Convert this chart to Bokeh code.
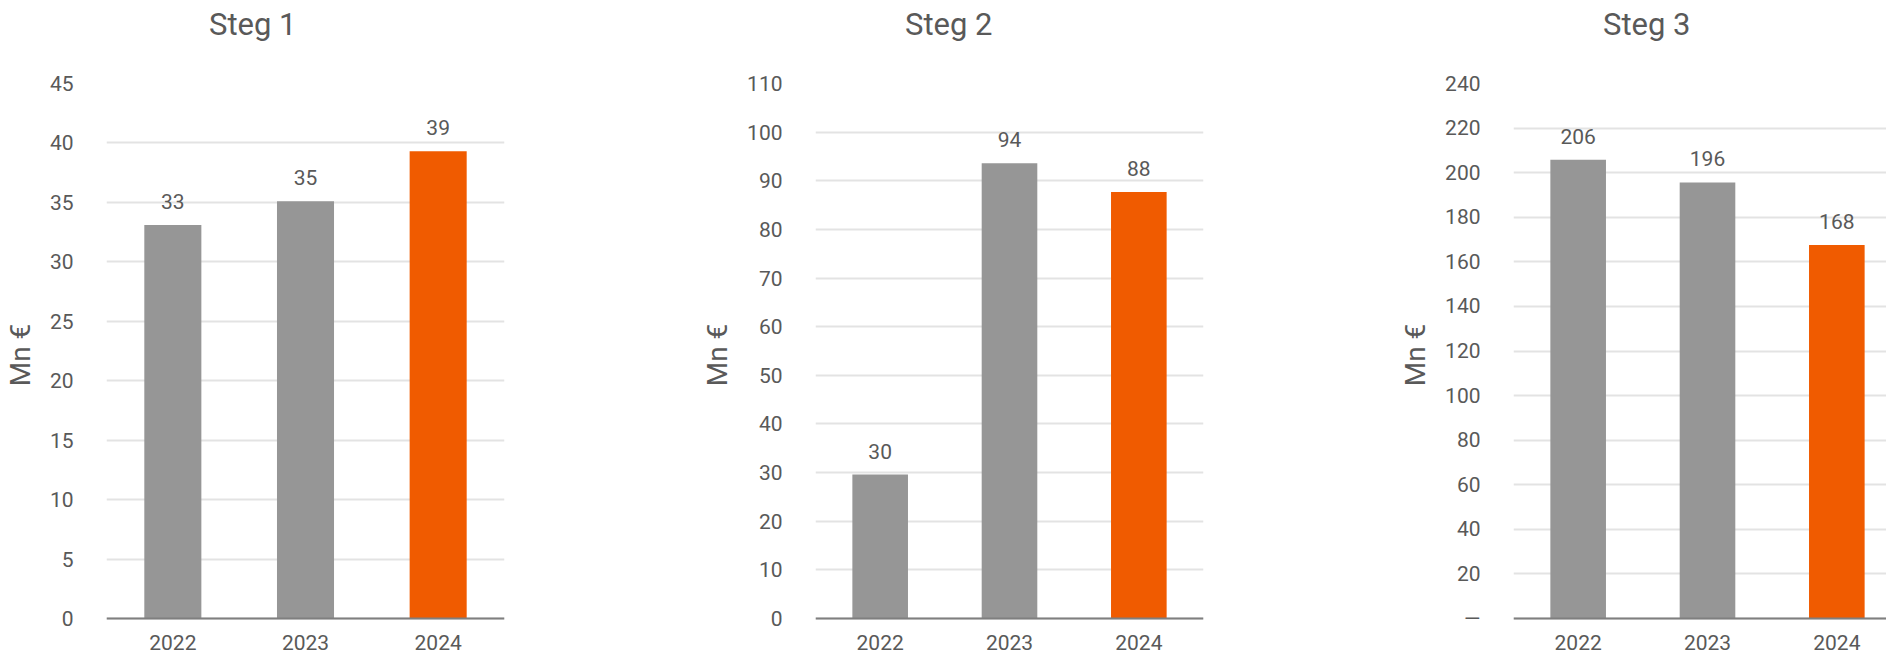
from bokeh.plotting import figure
from bokeh.models import Range1d, FixedTicker, ColumnDataSource, LabelSet, Title, Span
from bokeh.layouts import row
from bokeh.core.properties import value
from bokeh.embed import file_html
from bokeh.resources import INLINE

# ---- data ----
years = ["2022", "2023", "2024"]
titles = ["Steg 1", "Steg 2", "Steg 3"]
steg1 = [33.1, 35.1, 39.3]
steg2 = [29.6, 93.6, 87.7]
steg3 = [205.8, 195.6, 167.6]
y_max = [45, 110, 240]
y_step = [5, 10, 20]
bar_colors = ["#969696", "#969696", "#F05B00"]

FONT = "Roboto"
TXT = "#595959"

H = 654
TOP = 83          # frame top
ZERO = 618        # pixel row of value 0
BOTTOM_BORDER = 28
FRAME_BOTTOM = H - BOTTOM_BORDER


def make_chart(title, values, ymax, step, width, bl, br, x_end, title_offset, zero_label=None):
    xs = [i + 0.5 for i in range(len(years))]
    src = ColumnDataSource(dict(
        x=xs, top=values, color=bar_colors,
        label=[f"{v:.0f}" for v in values],
    ))
    ymin = -(FRAME_BOTTOM - ZERO) * ymax / (ZERO - TOP)
    p = figure(width=width, height=H, output_backend="svg", toolbar_location=None,
               x_range=Range1d(0, x_end), y_range=Range1d(ymin, ymax),
               min_border_left=bl, min_border_right=br,
               min_border_top=TOP, min_border_bottom=BOTTOM_BORDER)
    p.outline_line_color = None
    p.background_fill_color = "white"
    p.border_fill_color = "white"

    p.vbar(x="x", top="top", bottom=0, width=0.43, color="color", line_color=None, source=src)

    p.add_layout(Span(location=0, dimension="width", line_color="#7f7f7f", line_width=2))

    p.add_layout(LabelSet(x="x", y="top", text="label", source=src,
                          text_align="center", text_baseline="alphabetic",
                          y_offset=16, text_font=value(FONT),
                          text_font_size="21px", text_color=TXT))

    # y axis
    yticks = list(range(0, ymax + 1, step))
    p.yaxis.ticker = FixedTicker(ticks=yticks)
    p.yaxis.axis_line_color = None
    p.yaxis.major_tick_line_color = None
    p.yaxis.minor_tick_line_color = None
    p.yaxis.major_tick_out = 0
    p.yaxis.major_label_standoff = 33
    p.yaxis.major_label_text_font = FONT
    p.yaxis.major_label_text_font_size = "21px"
    p.yaxis.major_label_text_color = TXT
    p.yaxis.axis_label = "Mn €"
    p.yaxis.axis_label_text_font = FONT
    p.yaxis.axis_label_text_font_style = "normal"
    p.yaxis.axis_label_text_font_size = "28px"
    p.yaxis.axis_label_text_color = TXT
    p.yaxis.axis_label_standoff = 10
    if zero_label is not None:
        p.yaxis.major_label_overrides = {0: zero_label}

    # x axis (line drawn by the Span at zero)
    p.xaxis.ticker = FixedTicker(ticks=xs)
    p.xaxis.major_label_overrides = {x: y for x, y in zip(xs, years)}
    p.xaxis.axis_line_color = None
    p.xaxis.major_tick_line_color = None
    p.xaxis.minor_tick_line_color = None
    p.xaxis.major_tick_out = 0
    p.xaxis.major_label_standoff = 8
    p.xaxis.major_label_text_font = FONT
    p.xaxis.major_label_text_font_size = "21px"
    p.xaxis.major_label_text_color = TXT

    p.xgrid.grid_line_color = None
    p.ygrid.grid_line_color = "#e3e3e3"
    p.ygrid.grid_line_width = 2

    # title: a trailing empty line keeps it up at the top of the header band
    t = Title(text=title + "\n", align="left", offset=title_offset, vertical_align="top",
              standoff=3, text_font=FONT, text_font_size="31px",
              text_font_style="normal", text_color=TXT)
    p.add_layout(t, "above")
    return p


p1 = make_chart(titles[0], steg1, y_max[0], y_step[0], 600, 104, 96, 3, 102.5)
p2 = make_chart(titles[1], steg2, y_max[1], y_step[1], 660, 215, 57, 3, 89.5)
p3 = make_chart(titles[2], steg3, y_max[2], y_step[2], 626, 253, 0, 373 / 129.33, 89.5,
                zero_label="—")

layout = row(p1, p2, p3, spacing=0)
open("out.html", "w").write(file_html(layout, INLINE))
